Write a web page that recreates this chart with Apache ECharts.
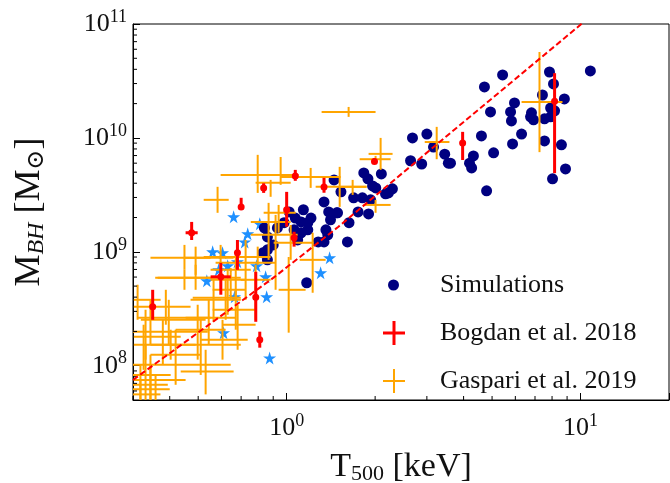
<!DOCTYPE html>
<html>
<head>
<meta charset="utf-8">
<script src="https://cdn.jsdelivr.net/npm/echarts@6/dist/echarts.min.js"></script>
<style>
	html, body { margin: 0; padding: 0; background: #fff; }
	#chart { width: 670px; height: 483px; }
</style>
</head>
<body>
<div id="chart"></div>
<script>
// T500 in keV, M_BH in units of 1e9 Msun
const simT = [10.8, 7.84, 5.43, 4.71, 8.09, 7.42, 8.81, 5.96, 4.94, 5.78, 5.82, 6.81, 6.76, 6.92, 7.91, 8.16, 7.54, 7.91, 4.60, 6.30, 5.87, 5.06, 4.32, 4.19, 4.26, 7.54, 8.61, 8.89, 8.03, 4.79, 3.61, 2.68, 3.00, 3.16, 3.45, 3.55, 2.64, 2.88, 1.83, 2.10, 1.89, 1.96, 2.01, 2.29, 2.22, 1.45, 1.53, 1.69, 1.81, 1.93, 2.17, 1.49, 1.75, 1.90, 1.63, 1.61, 1.34, 1.39, 1.41, 1.48, 1.14, 1.21, 1.02, 1.07, 1.12, 1.18, 1.36, 1.38, 1.28, 1.34, 0.98, 0.93, 0.84, 0.86, 1.06, 1.12, 1.09, 1.18, 0.90, 0.86, 0.83, 0.86, 1.17]
const simM = [38.7, 37.9, 35.7, 28.0, 29.8, 23.8, 22.0, 20.3, 16.9, 16.9, 14.1, 16.6, 15.3, 14.4, 18.3, 17.3, 14.7, 15.3, 10.4, 10.8, 8.85, 7.39, 6.95, 6.0, 5.45, 9.41, 8.7, 5.34, 4.37, 3.43, 6.0, 10.0, 10.8, 8.3, 7.2, 6.0, 6.3, 5.9, 4.93, 4.83, 4.37, 3.79, 3.64, 3.57, 3.29, 4.28, 3.36, 2.98, 2.98, 2.86, 3.23, 2.20, 2.24, 2.15, 1.80, 1.22, 2.74, 2.24, 1.91, 2.20, 2.34, 1.98, 2.24, 1.98, 1.83, 1.80, 1.56, 1.41, 1.22, 1.22, 1.80, 1.62, 1.62, 1.35, 1.56, 1.47, 1.27, 1.56, 1.15, 1.04, 0.98, 0.85, 0.535]

// blue stars (not in legend)
const starT = [0.66, 0.56, 0.605, 0.81, 0.737, 0.72, 0.68, 0.63, 0.587, 0.535, 0.79, 0.848, 0.855, 0.665, 0.61, 0.875, 1.305, 1.40]
const starM = [2.03, 1.0, 0.98, 1.76, 1.44, 1.22, 0.817, 0.754, 0.695, 0.557, 0.754, 0.603, 0.403, 0.403, 0.195, 0.117, 0.654, 0.886]

// Bogdan et al. 2018
const bogT = [0.475, 0.597, 0.35, 0.68, 0.785, 0.81, 0.70, 0.835, 1.07, 1.0, 1.06, 1.34, 1.99, 3.97, 8.16]
const bogTlo = [0.453, 0.551, 0.35, 0.68, 0.785, 0.81, 0.70, 0.835, 1.07, 1.0, 1.06, 1.34, 1.99, 3.97, 8.16]
const bogThi = [0.498, 0.645, 0.35, 0.68, 0.785, 0.81, 0.70, 0.835, 1.07, 1.0, 1.06, 1.34, 1.99, 3.97, 8.16]
const bogM = [1.47, 0.603, 0.33, 0.98, 0.40, 0.169, 2.48, 3.64, 4.64, 2.34, 1.33, 3.7, 6.2, 9.0, 21.0]
const bogMlo = [1.27, 0.42, 0.253, 0.695, 0.243, 0.144, 2.34, 3.29, 4.2, 1.66, 1.11, 3.3, 5.9, 6.4, 4.9]
const bogMhi = [1.83, 0.80, 0.464, 1.27, 0.668, 0.199, 2.98, 4.0, 5.24, 3.36, 1.50, 4.46, 6.6, 11.3, 37.0]

// Gaspari et al. 2019
const gasT = [1.625, 7.25, 3.24, 2.088, 2.007, 0.797, 1.207, 0.954, 1.515, 1.677, 2.007, 0.582, 0.882, 0.939, 0.868, 0.917, 1.032, 1.226, 1.016, 0.797, 0.725, 0.490, 0.596, 0.671, 0.784, 0.645, 0.449, 0.388, 0.344, 0.331, 0.379, 0.510, 0.419, 0.331, 0.530, 0.344, 0.318, 0.358, 0.318, 0.620, 0.490, 0.543, 0.605, 0.403, 0.671, 0.326, 0.397, 0.498, 0.564, 0.311, 0.449, 0.63, 0.344, 0.681]
const gasTlo = [1.315, 6.30, 2.95, 1.90, 1.772, 0.596, 0.954, 0.829, 1.255, 1.527, 1.827, 0.522, 0.784, 0.835, 0.755, 0.755, 0.903, 1.107, 0.939, 0.725, 0.573, 0.446, 0.522, 0.551, 0.698, 0.551, 0.357, 0.302, 0.311, 0.295, 0.302, 0.403, 0.344, 0.295, 0.436, 0.295, 0.295, 0.295, 0.295, 0.479, 0.364, 0.453, 0.510, 0.344, 0.56, 0.302, 0.319, 0.419, 0.471, 0.302, 0.344, 0.56, 0.302, 0.605]
const gasThi = [2.007, 8.68, 3.58, 2.293, 2.258, 1.048, 1.527, 1.098, 1.87, 1.87, 2.258, 0.635, 1.032, 1.073, 1.032, 1.09, 1.235, 1.357, 1.16, 0.882, 0.917, 0.551, 0.766, 0.755, 0.882, 0.725, 0.555, 0.471, 0.551, 0.539, 0.436, 0.698, 0.510, 0.645, 0.660, 0.403, 0.394, 0.40, 0.372, 0.698, 0.698, 0.671, 0.737, 0.490, 0.784, 0.419, 0.530, 0.620, 0.698, 0.3725, 0.66, 0.725, 0.453, 0.784]
const gasM = [16.9, 20.7, 9.2, 7.24, 6.5, 4.73, 4.54, 4.73, 3.72, 3.72, 2.58, 2.86, 4.03, 2.2, 1.83, 1.41, 1.20, 0.85, 0.464, 0.90, 0.80, 0.886, 0.90, 0.695, 0.568, 0.568, 0.591, 0.329, 0.264, 0.199, 0.180, 0.153, 0.125, 0.102, 0.089, 0.083, 0.068, 0.062, 0.056, 0.395, 0.591, 0.264, 0.169, 0.153, 0.310, 0.153, 0.253, 0.207, 0.379, 0.379, 0.886, 0.464, 0.075, 0.229]
const gasMlo = [15.3, 7.5, 6.5, 5.24, 6.15, 3.29, 3.64, 3.87, 2.48, 3.16, 2.2, 2.2, 3.04, 1.47, 0.85, 0.464, 0.85, 0.437, 0.195, 0.769, 0.379, 0.628, 0.695, 0.379, 0.253, 0.379, 0.464, 0.229, 0.153, 0.113, 0.102, 0.083, 0.068, 0.050, 0.056, 0.05, 0.045, 0.041, 0.041, 0.253, 0.464, 0.153, 0.113, 0.113, 0.207, 0.092, 0.153, 0.113, 0.243, 0.253, 0.695, 0.28, 0.05, 0.138]
const gasMhi = [18.7, 56.8, 12.5, 10.0, 6.95, 7.1, 5.45, 6.8, 5.57, 4.28, 2.86, 3.72, 4.28, 2.58, 2.69, 2.11, 1.72, 1.47, 0.90, 1.11, 1.27, 1.11, 1.15, 0.94, 0.769, 0.72, 0.695, 0.464, 0.379, 0.310, 0.253, 0.253, 0.207, 0.153, 0.138, 0.125, 0.102, 0.083, 0.075, 0.568, 0.77, 0.379, 0.253, 0.207, 0.464, 0.229, 0.379, 0.343, 0.568, 0.514, 1.15, 0.695, 0.102, 0.343]

// dashed scaling relation
const fitT = [0.3, 0.9, 1.5, 3.6, 10.3]
const fitM = [0.075, 0.59, 1.66, 11.0, 105]

// axis ranges and labelled decades
const xRange = [0.3, 20]
const yRange = [5e7, 1e11]
const xDecades = [0, 1]
const yDecades = [8, 9, 10, 11]

const SERIF = "'Liberation Serif', 'DejaVu Serif', serif"
const E9 = 1e9

const chart = echarts.init(document.getElementById('chart'))

// minor ticks at 2..9 x 10^n, inside the frame
const xMinor = []
const yMinor = []
for (let e = -1; e <= 1; e++) {
	for (let k = 2; k <= 9; k++) {
		const v = k * Math.pow(10, e)
		if (v > xRange[0] && v < xRange[1]) xMinor.push([v, yRange[0]])
	}
}
for (let e = 7; e <= 10; e++) {
	for (let k = 2; k <= 9; k++) {
		const v = k * Math.pow(10, e)
		if (v > yRange[0] && v < yRange[1]) yMinor.push([xRange[0], v])
	}
}

function decadeLabel(decades) {
	return function (v) {
		const e = Math.log10(v)
		const r = Math.round(e)
		if (Math.abs(e - r) > 1e-6 || decades.indexOf(r) < 0) return ''
		return '{b|10}{s|' + r + '}'
	}
}

const labelRich = {
	b: { fontFamily: SERIF, fontSize: 26, color: '#111' },
	s: { fontFamily: SERIF, fontSize: 18, color: '#111', padding: [0, 0, 14, 0] }
}

// error bar cross, optional dot in the middle
function errorBars(width, dot) {
	return function (params, api) {
		const x = api.value(0), y = api.value(1)
		const c = api.coord([x, y])
		const a = api.coord([api.value(2), y])
		const b = api.coord([api.value(3), y])
		const lo = api.coord([x, api.value(4)])
		const hi = api.coord([x, api.value(5)])
		const color = api.visual('color')
		const children = [
			{ type: 'line', shape: { x1: a[0], y1: a[1], x2: b[0], y2: b[1] }, style: { stroke: color, lineWidth: width } },
			{ type: 'line', shape: { x1: lo[0], y1: lo[1], x2: hi[0], y2: hi[1] }, style: { stroke: color, lineWidth: width } }
		]
		if (dot) children.push({ type: 'circle', shape: { cx: c[0], cy: c[1], r: dot }, style: { fill: color } })
		return { type: 'group', children: children }
	}
}

function tickMarks(dir, len) {
	return function (params, api) {
		const p = api.coord([api.value(0), api.value(1)])
		const shape = dir === 'x'
			? { x1: p[0], y1: p[1], x2: p[0], y2: p[1] - len }
			: { x1: p[0], y1: p[1], x2: p[0] + len, y2: p[1] }
		return { type: 'line', shape: shape, style: { stroke: '#000', lineWidth: 1 } }
	}
}

const star = 'path://M50,0 L61,35 L98,35 L68,57 L79,91 L50,70 L21,91 L32,57 L2,35 L39,35 Z'
const crossThick = 'path://M0,10.5 L22,10.5 L22,13.5 L0,13.5 Z M9.5,0 L12.5,0 L12.5,24 L9.5,24 Z'
const crossThin = 'path://M0,11 L22,11 L22,13 L0,13 Z M10,0 L12,0 L12,24 L10,24 Z'

const legendText = { fontFamily: SERIF, fontSize: 26, color: '#111' }

chart.setOption({
	animation: false,
	backgroundColor: '#fff',
	grid: {
		left: 133,
		right: 1,
		top: 24,
		bottom: 83,
		outerBoundsMode: 'none',
		show: true,
		borderColor: '#000',
		borderWidth: 1
	},
	legend: [{
		data: ['Simulations'],
		icon: 'circle',
		left: 388,
		top: 272,
		padding: 0,
		itemWidth: 11,
		itemHeight: 11,
		selectedMode: false,
		textStyle: Object.assign({ padding: [0, 0, 0, 36] }, legendText)
	}, {
		data: [{ name: 'Bogdan et al. 2018', icon: crossThick }],
		left: 383,
		top: 320,
		padding: 0,
		itemWidth: 22,
		itemHeight: 24,
		selectedMode: false,
		textStyle: Object.assign({ padding: [0, 0, 0, 30] }, legendText)
	}, {
		data: [{ name: 'Gaspari et al. 2019', icon: crossThin }],
		left: 383,
		top: 368,
		padding: 0,
		itemWidth: 22,
		itemHeight: 24,
		selectedMode: false,
		textStyle: Object.assign({ padding: [0, 0, 0, 30] }, legendText)
	}],
	xAxis: {
		type: 'log',
		logBase: 10,
		min: xRange[0],
		max: xRange[1],
		name: '{t|T}{sub|500}{t| [keV]}',
		nameLocation: 'middle',
		nameGap: 49,
		nameTextStyle: {
			rich: {
				t: { fontFamily: SERIF, fontSize: 34, color: '#111' },
				sub: { fontFamily: SERIF, fontSize: 22, color: '#111', padding: [14, 0, 0, 0] }
			}
		},
		axisLine: { lineStyle: { color: '#000', width: 1 } },
		axisTick: { inside: true, length: 7, lineStyle: { color: '#000' } },
		splitLine: { show: false },
		axisLabel: { formatter: decadeLabel(xDecades), rich: labelRich, margin: 12 }
	},
	yAxis: {
		type: 'log',
		logBase: 10,
		min: yRange[0],
		max: yRange[1],
		name: '{t|M}{sub|BH}{t| [M}{sub2|⊙}{t|]}',
		nameLocation: 'middle',
		nameRotate: 90,
		nameGap: 84,
		nameTextStyle: {
			rich: {
				t: { fontFamily: SERIF, fontSize: 36, color: '#111' },
				sub: { fontFamily: SERIF, fontSize: 24, fontStyle: 'italic', color: '#111', padding: [14, 0, 0, 0] },
				sub2: { fontFamily: SERIF, fontSize: 24, color: '#111', padding: [14, 0, 0, 0] }
			}
		},
		axisLine: { lineStyle: { color: '#000', width: 1 } },
		axisTick: { inside: true, length: 7, lineStyle: { color: '#000' } },
		splitLine: { show: false },
		axisLabel: { formatter: decadeLabel(yDecades), rich: labelRich, margin: 6 }
	},
	series: [{
		type: 'custom',
		silent: true,
		renderItem: tickMarks('x', 4),
		data: xMinor,
		z: 5
	}, {
		type: 'custom',
		silent: true,
		renderItem: tickMarks('y', 4),
		data: yMinor,
		z: 5
	}, {
		name: 'stars',
		type: 'scatter',
		symbol: star,
		symbolSize: 13,
		itemStyle: { color: '#1e90ff', opacity: 1 },
		data: starT.map((t, i) => [t, starM[i] * E9]),
		z: 1
	}, {
		name: 'Simulations',
		type: 'scatter',
		symbolSize: 11,
		itemStyle: { color: '#000080', opacity: 1 },
		data: simT.map((t, i) => [t, simM[i] * E9]),
		z: 2
	}, {
		name: 'Gaspari et al. 2019',
		type: 'custom',
		clip: true,
		itemStyle: { color: '#ffa500' },
		renderItem: errorBars(2, 0),
		encode: { x: [0, 2, 3], y: [1, 4, 5] },
		data: gasT.map((t, i) => [t, gasM[i] * E9, gasTlo[i], gasThi[i], gasMlo[i] * E9, gasMhi[i] * E9]),
		z: 3
	}, {
		name: 'Bogdan et al. 2018',
		type: 'custom',
		clip: true,
		itemStyle: { color: '#ff0000' },
		renderItem: errorBars(3, 3.5),
		encode: { x: [0, 2, 3], y: [1, 4, 5] },
		data: bogT.map((t, i) => [t, bogM[i] * E9, bogTlo[i], bogThi[i], bogMlo[i] * E9, bogMhi[i] * E9]),
		z: 4
	}, {
		name: 'fit',
		type: 'line',
		clip: true,
		symbol: 'none',
		lineStyle: { color: '#ff0000', width: 2, type: [6, 3] },
		data: fitT.map((t, i) => [t, fitM[i] * E9]),
		z: 6
	}]
})
</script>
</body>
</html>
